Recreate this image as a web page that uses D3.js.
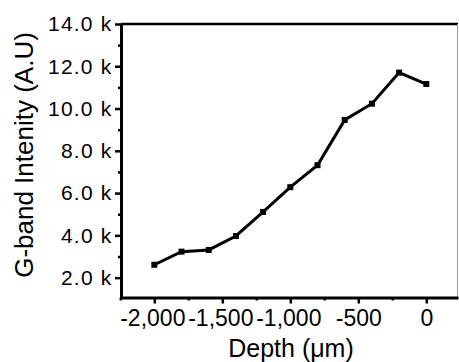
<!DOCTYPE html>
<html>
<head>
<meta charset="utf-8">
<script src="https://cdn.jsdelivr.net/npm/d3@7"></script>
<style>
  body { margin: 0; background: #fff; }
  text { font-family: "Liberation Sans", Arial, sans-serif; fill: #000; }
</style>
</head>
<body>
<div class="main"></div>
<script>
const width = 459;
const height = 362;
const margin = { top: 24, right: 1, bottom: 64.5, left: 121 };

// data
const depth = [-2000, -1800, -1600, -1400, -1200, -1000, -800, -600, -400, -200, 0];
const intensity = [2610, 3230, 3310, 3970, 5110, 6280, 7320, 9460, 10230, 11700, 11160];
const yTicks = [2000, 4000, 6000, 8000, 10000, 12000, 14000];
const yMinor = [3000, 5000, 7000, 9000, 11000, 13000];
const xTicks = [-2000, -1500, -1000, -500, 0];
const xMinor = [-2250, -1750, -1250, -750, -250];

const data = depth.map((d, i) => ({ depth: d, value: intensity[i] }));

const x = d3.scaleLinear()
  .domain([-2245, 233])
  .range([margin.left, width - margin.right]);

const y = d3.scaleLinear()
  .domain([1060, 14000])
  .range([height - margin.bottom, margin.top]);

const svg = d3.select('.main')
  .append("svg")
    .attr("width", width)
    .attr("height", height);

// top + right frame
svg.append("line")
  .attr("x1", margin.left).attr("x2", width - margin.right)
  .attr("y1", margin.top).attr("y2", margin.top)
  .attr("stroke", "#000").attr("stroke-width", 2.5);
svg.append("line")
  .attr("x1", width - margin.right - 0.5).attr("x2", width - margin.right - 0.5)
  .attr("y1", margin.top).attr("y2", height - margin.bottom)
  .attr("stroke", "#999").attr("stroke-width", 1);

// y axis
const yAxis = svg.append("g")
  .attr("transform", `translate(${margin.left},0)`)
  .call(d3.axisLeft(y).tickValues(yTicks).tickSize(6).tickSizeOuter(0)
    .tickFormat(d => (d / 1000).toFixed(1) + " k"));
svg.append("g")
  .attr("transform", `translate(${margin.left},0)`)
  .call(d3.axisLeft(y).tickValues(yMinor).tickSize(3).tickSizeOuter(0).tickFormat(""))
  .call(g => g.select(".domain").remove());

// x axis
const xAxis = svg.append("g")
  .attr("transform", `translate(0,${height - margin.bottom})`)
  .call(d3.axisBottom(x).tickValues(xTicks).tickSize(6).tickSizeOuter(0)
    .tickFormat(d => d3.format(",")(d).replace("\u2212", "-")));
svg.append("g")
  .attr("transform", `translate(0,${height - margin.bottom})`)
  .call(d3.axisBottom(x).tickValues(xMinor).tickSize(3).tickSizeOuter(0).tickFormat(""))
  .call(g => g.select(".domain").remove());

svg.selectAll(".domain").attr("stroke", "#000").attr("stroke-width", 3);
svg.selectAll(".tick line").attr("stroke", "#000").attr("stroke-width", 2.5);

// labels in the original are a bit wide
yAxis.selectAll(".tick text")
  .style("font-size", "21px")
  .style("letter-spacing", "1.2px")
  .attr("x", -8.5)
  .attr("fill", "#000");

xAxis.selectAll(".tick text")
  .style("font-size", "23px")
  .attr("x", d => d <= -1000 ? -2 : 0)
  .attr("y", 12)
  .attr("dy", "0.71em")
  .attr("fill", "#000");

// line
svg.append("path")
  .datum(data)
  .attr("fill", "none")
  .attr("stroke", "#000")
  .attr("stroke-width", 3)
  .attr("stroke-linejoin", "miter")
  .attr("d", d3.line().x(d => x(d.depth)).y(d => y(d.value)));

// square markers
svg.selectAll(".pt")
  .data(data)
  .join("rect")
    .attr("class", "pt")
    .attr("x", d => x(d.depth) - 3)
    .attr("y", d => y(d.value) - 3)
    .attr("width", 6)
    .attr("height", 6)
    .attr("fill", "#000");

// axis labels
svg.append("text")
  .attr("x", 291)
  .attr("y", 357)
  .attr("text-anchor", "middle")
  .style("font-size", "25px")
  .text("Depth (\u03bcm)");

svg.append("text")
  .attr("transform", "translate(33,155) rotate(-90)")
  .attr("text-anchor", "middle")
  .style("font-size", "26px")
  .text("G-band Intenity (A.U)");
</script>
</body>
</html>
